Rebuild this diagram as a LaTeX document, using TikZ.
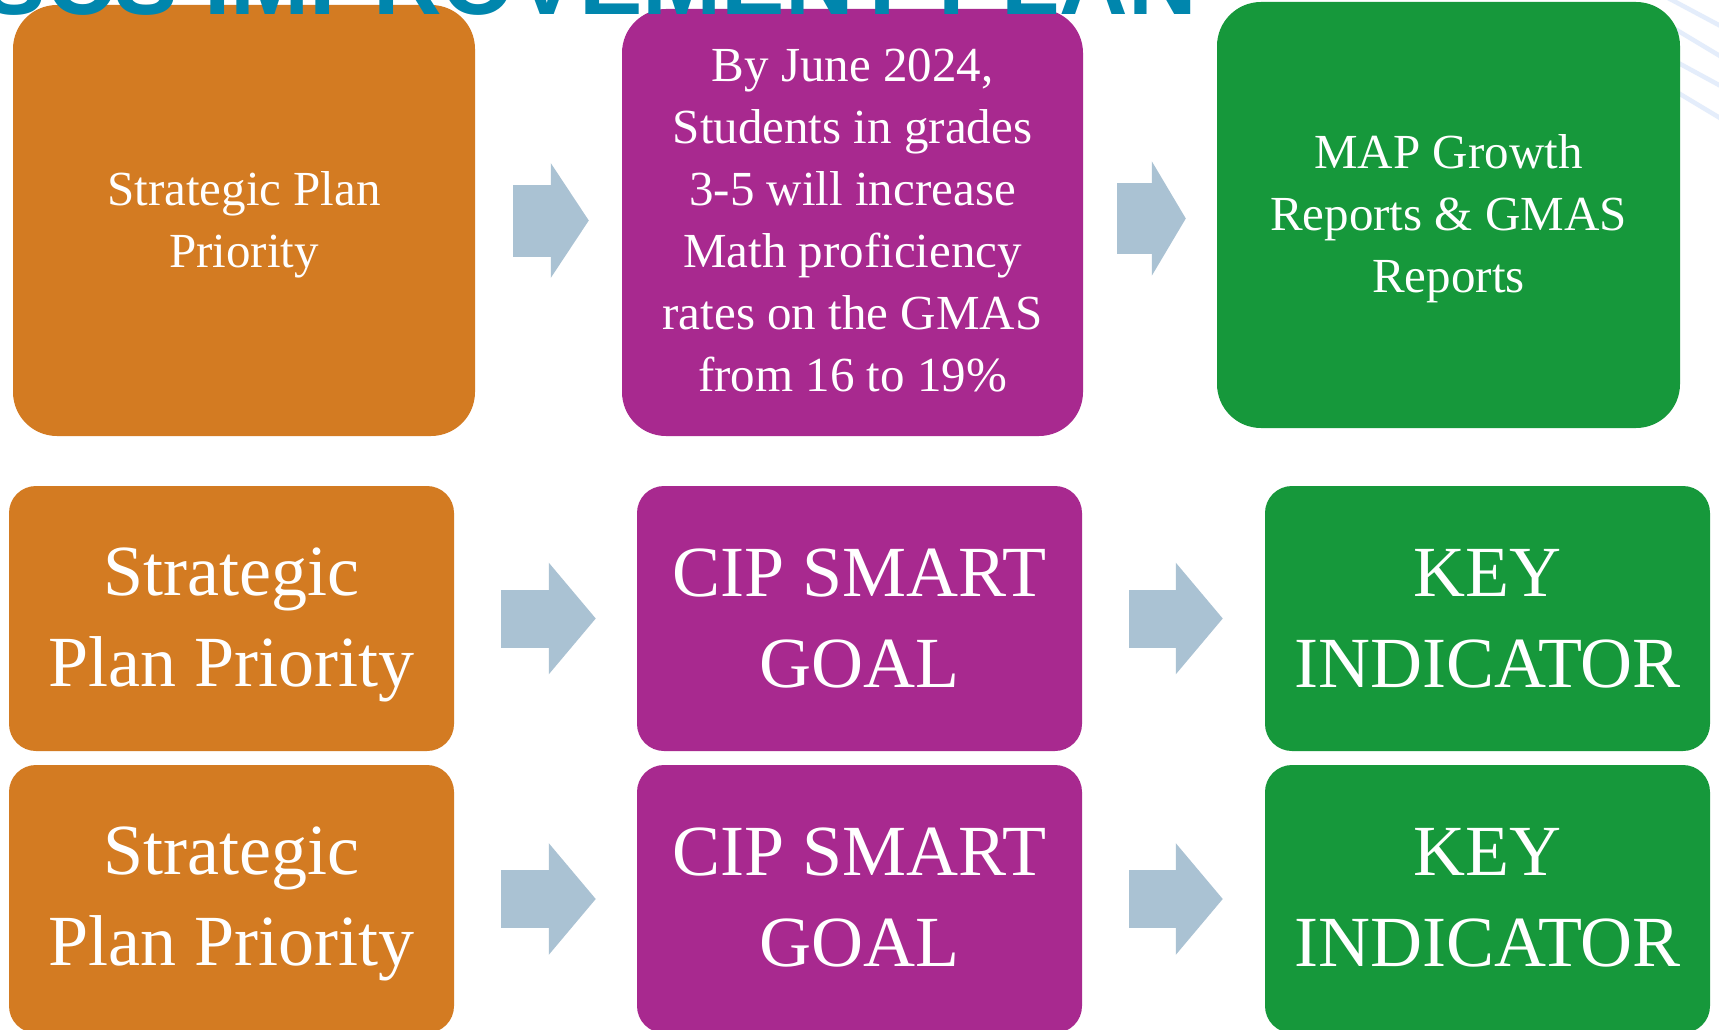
\documentclass[tikz,border=0pt]{standalone}
\usepackage{fontspec}
\setmainfont{Liberation Serif}
\newfontfamily\titlefont{Liberation Sans}
\usetikzlibrary{arrows.meta,calc}
\definecolor{boxorange}{HTML}{D37B22}
\definecolor{boxpurple}{HTML}{A8298F}
\definecolor{boxgreen}{HTML}{16983B}
\definecolor{arrowblue}{HTML}{AAC2D3}
\definecolor{titleteal}{HTML}{0086AD}
\definecolor{decoline}{HTML}{E4EDFB}
\begin{document}
\begin{tikzpicture}[x=1pt,y=-1pt,
  box/.style={rectangle, inner sep=0pt, draw=none},
  topbox/.style={box, rounded corners=44pt},
  lowbox/.style={box, rounded corners=27pt, minimum width=445pt, minimum height=265pt},
  toptext/.style={text=white, align=center, inner sep=0pt, font=\fontsize{49}{62}\selectfont},
  lowtext/.style={text=white, align=center, inner sep=0pt, font=\fontsize{72}{91}\selectfont},
  blockarrow/.style n args={3}{draw=arrowblue, line width=#1, line cap=butt, -{Triangle[length=#2, width=#3]}},
  deco/.style={draw=decoline, line width=4.5pt}
]
\useasboundingbox (0,0) rectangle (1719,1030);
\clip (0,0) rectangle (1719,1030);
\fill[white] (0,0) rectangle (1719,1030);

% decorative lines (behind the green box)
\draw[deco] (1655,-9) -- (1730,31);
\draw[deco] (1660,20) -- (1730,62);
\draw[deco] (1660,53) -- (1730,91);
\draw[deco] (1660,82) -- (1730,124);

% row 1
\node[topbox, fill=boxorange, minimum width=462pt, minimum height=431pt] (o1) at (244,220.5) {};
\node[topbox, fill=boxpurple, minimum width=461pt, minimum height=427pt] (p1) at (852.5,222.5) {};
\node[topbox, fill=boxgreen, minimum width=463pt, minimum height=426pt] (g1) at (1448.5,215) {};
% row 2
\node[lowbox, fill=boxorange] (o2) at (231.5,618.5) {};
\node[lowbox, fill=boxpurple] (p2) at (859.5,618.5) {};
\node[lowbox, fill=boxgreen] (g2) at (1487.5,618.5) {};
% row 3
\node[lowbox, fill=boxorange, minimum height=268pt] (o3) at (231.5,899) {};
\node[lowbox, fill=boxpurple, minimum height=268pt] (p3) at (859.5,899) {};
\node[lowbox, fill=boxgreen, minimum height=268pt] (g3) at (1487.5,899) {};

% arrows
\draw[blockarrow={72pt}{38pt}{113pt}] ($(o1.east)+(38,0)$) -- ($(o1.east -| p1.west)+(-33,0)$);
\draw[blockarrow={71pt}{34pt}{113pt}] ($(p1.east)+(34,-4)$) -- ($(p1.east -| g1.west)+(-31,-4)$);
\draw[blockarrow={58pt}{47pt}{109pt}] ($(o2.east)+(47,0)$) -- ($(o2.east -| p2.west)+(-41,0)$);
\draw[blockarrow={58pt}{47pt}{109pt}] ($(p2.east)+(47,0)$) -- ($(p2.east -| g2.west)+(-42,0)$);
\draw[blockarrow={58pt}{47pt}{109pt}] ($(o3.east)+(47,0)$) -- ($(o3.east -| p3.west)+(-41,0)$);
\draw[blockarrow={58pt}{47pt}{109pt}] ($(p3.east)+(47,0)$) -- ($(p3.east -| g3.west)+(-42,0)$);

% title (cut off at the top)
\node[anchor=base east, inner sep=0pt, text=titleteal, font=\titlefont\bfseries\fontsize{95}{95}\selectfont] (title) at (1197,15) {SCS IMPROVEMENT PLAN};

% texts
\node[toptext] (o1t) at ($(o1.center)+(0,4)$) {Strategic Plan\\Priority};
\node[toptext] (p1t) at ($(p1.center)+(0,-1.5)$) {By June 2024,\\Students in grades\\3-5 will increase\\Math proficiency\\rates on the GMAS\\from 16 to 19\%};
\node[toptext] (g1t) at ($(g1.center)+(0,3.5)$) {MAP Growth\\Reports \& GMAS\\Reports};
\node[lowtext] (o2t) at ($(o2.center)+(0,6)$) {Strategic\\Plan Priority};
\node[lowtext] (p2t) at (p2.center) {CIP SMART\\GOAL};
\node[lowtext] (g2t) at (g2.center) {KEY\\INDICATOR};
\node[lowtext] (o3t) at ($(o3.center)+(0,5)$) {Strategic\\Plan Priority};
\node[lowtext] (p3t) at ($(p3.center)+(0,-1)$) {CIP SMART\\GOAL};
\node[lowtext] (g3t) at ($(g3.center)+(0,-1)$) {KEY\\INDICATOR};
\end{tikzpicture}
\end{document}
